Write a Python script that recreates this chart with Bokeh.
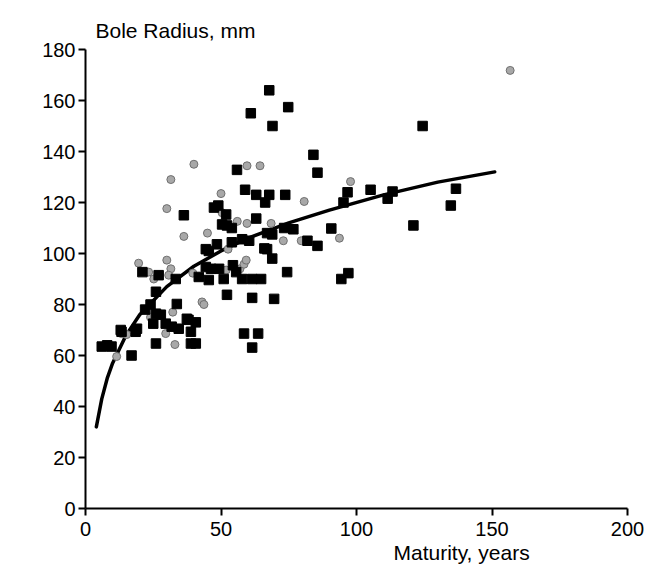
from bokeh.plotting import figure
from bokeh.models import Range1d, Title, FixedTicker
from bokeh.embed import file_html
from bokeh.resources import INLINE

# Black squares (maturity, years ; bole radius, mm)
sq_x = [6, 8, 9.6, 13, 13.3, 17, 18.5, 19, 21, 22, 24, 25, 26, 26, 26, 27, 27.8, 29.6,
        31.8, 33.3, 33.7, 34.4, 36.3, 37.4, 38, 38.9, 38.9, 40.7, 40.7, 41.8, 44.4, 44.4,
        45.5, 46.3, 45.5, 47.4, 48.5, 49, 49.3, 50.4, 51, 51.9, 52.2, 52.2, 54, 54, 54.4,
        55.6, 55.9, 57.8, 57.8, 58.5, 58.9, 60.4, 61, 61.5, 61.5, 61.5, 63, 63, 63.7, 64.8,
        66, 66.3, 67, 67, 67.8, 67.8, 68.9, 68.9, 69, 69.6, 73.3, 73.7, 74.4, 74.8, 76.7,
        81.9, 84.1, 85.6, 85.6, 90.7, 94.4, 95.2, 96.7, 97, 105.2, 111.5, 113.3, 121,
        124.4, 134.8, 136.7]
sq_y = [63.5, 64, 63.5, 70, 69.3, 60, 69.3, 70.5, 92.7, 78, 80, 72.5, 85, 76.4, 64.7, 91.5,
        76, 72.5, 71.3, 90, 80.2, 70.5, 115, 74.4, 74, 69.3, 64.7, 73, 64.7, 90.8, 101.7,
        94.7, 89.6, 94, 101, 118, 103.6, 118.8, 94, 111.4, 90, 115.3, 111, 83.8, 110, 104.4,
        95.4, 92.7, 132.8, 105.6, 90, 68.6, 125, 105, 155, 90, 82.6, 63.1, 123, 113.7, 68.6,
        90, 102, 120, 101.7, 108, 123, 164, 98, 107.5, 150, 82.2, 110, 123, 92.7, 157.4,
        109.5, 105, 138.7, 131.7, 103, 109.8, 90, 120, 124, 92.3, 125, 121.5, 124.3, 111,
        150, 118.8, 125.4]

# Grey circles
ci_x = [11.5, 13.3, 15.2, 19.6, 23.3, 25.2, 24, 24, 29.6, 30, 31.5, 30.7, 30, 31.5, 32.2,
        33, 36.3, 39.6, 40, 43, 43.7, 45, 50, 50.4, 51.9, 52.6, 56, 57, 58.5, 59.3, 59.6,
        59.6, 64.4, 68.5, 73, 79.6, 80.7, 93.7, 97.8, 156.7]
ci_y = [59.6, 68.6, 68.2, 96.2, 92.7, 90, 78, 75, 68.6, 97.4, 94, 91.5, 117.6, 129, 77,
        64.3, 106.7, 92.3, 135, 81, 80, 108, 123.5, 116, 93.5, 101.7, 112.6, 94, 95.8, 97.4,
        111.8, 134.4, 134.4, 111.8, 105, 105, 120.4, 106, 128.2, 171.8]

# Fitted trend curve
fit_x = [4, 6, 8, 10, 15, 20, 30, 40, 50, 60, 75, 90, 110, 130, 151]
fit_y = [32, 43, 51, 57, 68, 76, 87, 95, 101, 106, 112, 117, 123, 128, 132]

x_ticks = [0, 50, 100, 150, 200]
y_ticks = [0, 20, 40, 60, 80, 100, 120, 140, 160, 180]

FONT = "Liberation Sans"

p = figure(width=649, height=570, output_backend="svg", toolbar_location=None,
           x_range=Range1d(0, 200), y_range=Range1d(0, 180),
           min_border_left=85, min_border_right=22, min_border_top=49, min_border_bottom=62)
p.xgrid.visible = False
p.ygrid.visible = False
p.outline_line_color = None
p.background_fill_color = "white"
p.border_fill_color = "white"

for ax in (p.xaxis[0], p.yaxis[0]):
    ax.axis_line_width = 2
    ax.axis_line_color = "black"
    ax.major_tick_line_width = 2
    ax.major_tick_line_color = "black"
    ax.major_tick_in = 0
    ax.major_tick_out = 7
    ax.minor_tick_line_color = None
    ax.major_label_text_font = FONT
    ax.major_label_text_font_size = "20px"
    ax.major_label_text_color = "black"

p.xaxis[0].ticker = FixedTicker(ticks=x_ticks)
p.yaxis[0].ticker = FixedTicker(ticks=y_ticks)
p.xaxis[0].major_label_standoff = 6
p.yaxis[0].major_label_standoff = 3

p.line(fit_x, fit_y, line_width=3.5, line_color="black", line_cap="round")
p.scatter(ci_x, ci_y, marker="circle", size=8, fill_color="#a8a8a8", line_color="#707070", line_width=1)
p.scatter(sq_x, sq_y, marker="square", size=9.5, fill_color="black", line_color="black")

p.add_layout(Title(text="Bole Radius, mm", align="left", offset=10, standoff=15,
                   text_font=FONT, text_font_size="21px", text_font_style="normal",
                   text_color="black"), "above")
p.add_layout(Title(text="Maturity, years", align="left", offset=308, standoff=0,
                   text_font=FONT, text_font_size="21px", text_font_style="normal",
                   text_color="black"), "below")

open("out.html", "w").write(file_html(p, INLINE))
